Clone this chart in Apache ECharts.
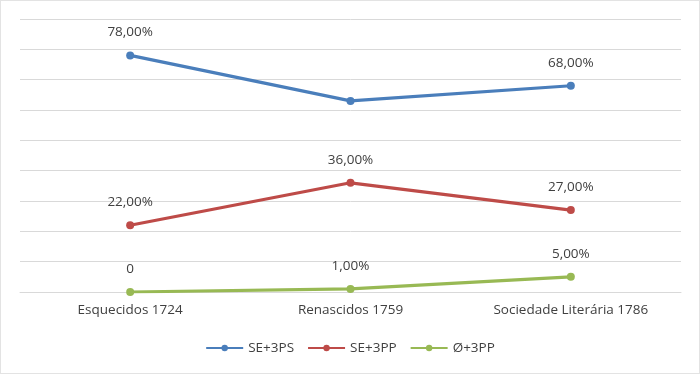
<!DOCTYPE html>
<html>
<head>
<meta charset="utf-8">
<script src="https://cdn.jsdelivr.net/npm/echarts@6/dist/echarts.min.js"></script>
<style>
  html, body { margin: 0; padding: 0; background: #fff; }
  #chart { width: 700px; height: 374px; box-sizing: border-box; border: 1px solid #e3e3e3; }
</style>
</head>
<body>
<div id="chart"></div>
<script>
const categories = ['Esquecidos 1724', 'Renascidos 1759', 'Sociedade Literária 1786'];
const se3ps = [78, 63, 68];
const se3pp = [22, 36, 27];
const o3pp = [0, 1, 5];
const seriesNames = ['SE+3PS', 'SE+3PP', 'Ø+3PP'];
const seriesColors = ['#4a7ebb', '#be4b48', '#98b954'];
// the middle point of SE+3PS has no label in the original
const hiddenLabels = [[1], [], []];

const chart = echarts.init(document.getElementById('chart'));

const fmt = (v) => v === 0 ? '0' : v.toFixed(2).replace('.', ',') + '%';

const makeSeries = (name, values, color, hidden) => ({
  name: name,
  type: 'line',
  data: values.map((v, i) => hidden.includes(i) ? { value: v, label: { show: false } } : v),
  symbol: 'circle',
  symbolSize: 8,
  color: color,
  lineStyle: { width: 3.2, color: color },
  itemStyle: { color: color },
  label: {
    show: true,
    position: 'top',
    distance: 12,
    color: '#404040',
    fontSize: 13.5,
    fontFamily: 'Open Sans',
    formatter: (p) => fmt(p.value)
  }
});

const option = {
  animation: false,
  grid: { left: 19, right: 18, top: 18, bottom: 81 },
  xAxis: {
    type: 'category',
    data: categories,
    boundaryGap: true,
    axisLine: { lineStyle: { color: '#d9d9d9', width: 1 } },
    axisTick: { show: false },
    axisLabel: { color: '#404040', fontSize: 13.5, fontFamily: 'Open Sans', margin: 11 }
  },
  yAxis: {
    type: 'value',
    min: 0,
    max: 90,
    interval: 10,
    axisLabel: { show: false },
    axisLine: { show: false },
    axisTick: { show: false },
    splitLine: { lineStyle: { color: '#d9d9d9', width: 1 } }
  },
  legend: {
    bottom: 13,
    left: 'center',
    itemWidth: 37,
    itemHeight: 8,
    itemGap: 13,
    textStyle: { color: '#404040', fontSize: 13.5, fontFamily: 'Open Sans' },
    data: seriesNames
  },
  series: [
    makeSeries(seriesNames[0], se3ps, seriesColors[0], hiddenLabels[0]),
    makeSeries(seriesNames[1], se3pp, seriesColors[1], hiddenLabels[1]),
    makeSeries(seriesNames[2], o3pp, seriesColors[2], hiddenLabels[2])
  ]
};

chart.setOption(option);
</script>
</body>
</html>
